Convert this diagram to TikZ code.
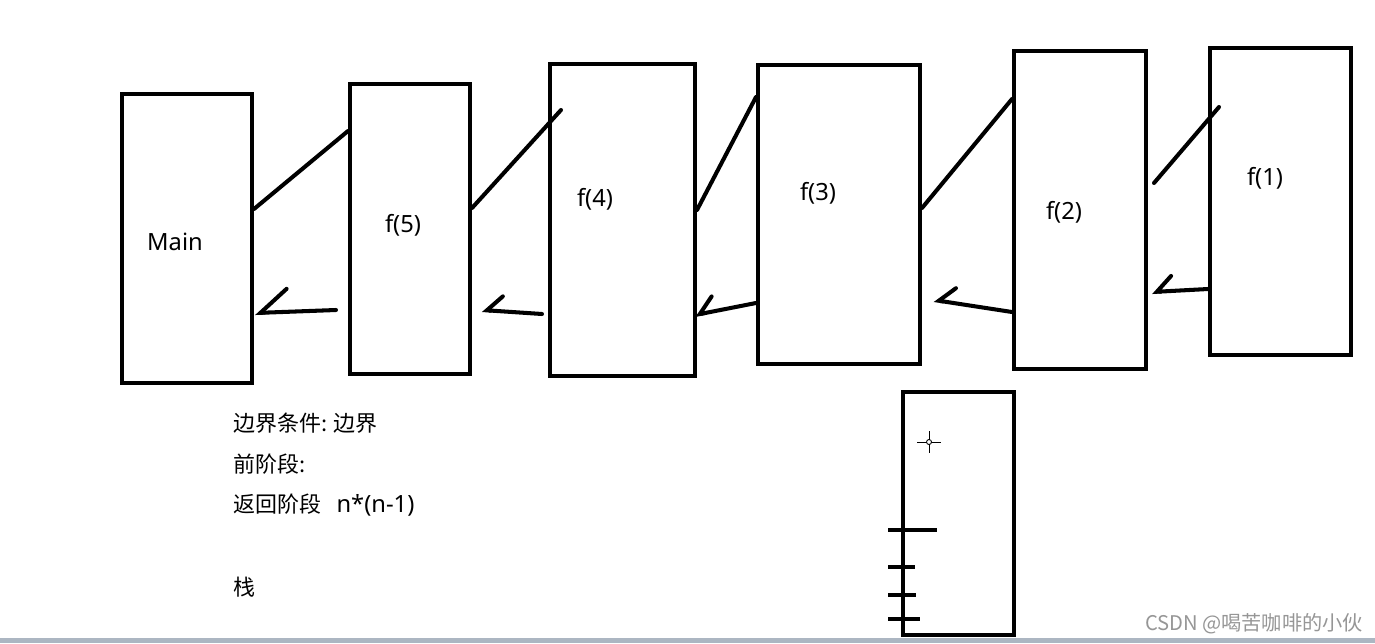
\documentclass[tikz,border=0pt]{standalone}
\usepackage{fontspec}
\setmainfont{Noto Sans}
\newfontfamily\cjk{Noto Sans CJK SC}
\usepackage{tikz}
\usetikzlibrary{positioning,arrows.meta,calc}
\definecolor{wmgray}{RGB}{150,150,150}
\definecolor{barcol}{RGB}{172,182,194}
\tikzset{
  frame/.style={rectangle, draw=black, line width=2.3pt, inner sep=0pt},
  lbl/.style={font=\fontsize{13.5}{16}\selectfont, inner sep=0pt},
  note/.style={font=\fontsize{12.5}{15}\selectfont, anchor=west, inner sep=0pt},
  call/.style={line width=2.3pt, line cap=round},
  ret/.style={line width=2.3pt, line cap=round,
      -{Straight Barb[harpoon, swap, length=0.3cm, width=0.6cm, line cap=round]}},
  tick/.style={line width=2.6pt}
}
\begin{document}
\begin{tikzpicture}[x=0.02cm, y=-0.02cm]
\useasboundingbox (0,0) rectangle (1375,643);
\fill[barcol] (0,638) rectangle (1375,643);

% frames
\node[frame, minimum width=2.6cm, minimum height=5.78cm] (main) at (187,238.5) {};
\node[frame, minimum width=2.4cm, minimum height=5.8cm] (f5) at (410,229) {};
\node[frame, minimum width=2.9cm, minimum height=6.24cm] (f4) at (622.5,220) {};
\node[frame, minimum width=3.24cm, minimum height=5.98cm] (f3) at (839,214.5) {};
\node[frame, minimum width=2.64cm, minimum height=6.36cm] (f2) at (1080,210) {};
\node[frame, minimum width=2.82cm, minimum height=6.14cm] (f1) at (1280.5,201.5) {};
\node[frame, minimum width=2.22cm, minimum height=4.86cm] (stack) at (958.5,513.5) {};

\node[lbl] (lmain) at (175,242) {Main};
\node[lbl] (lf5) at (403,225) {f(5)};
\node[lbl] (lf4) at (595,199) {f(4)};
\node[lbl] (lf3) at (818,193) {f(3)};
\node[lbl] (lf2) at (1064,212) {f(2)};
\node[lbl] (lf1) at (1265,178) {f(1)};

% calls
\draw[call] (main.east |- 0,209) -- (f5.west |- 0,131);
\draw[call] (f5.east |- 0,208) -- ($(f4.west |- 0,110)+(13,0)$);
\draw[call] (f4.east |- 0,210) -- (f3.west |- 0,97);
\draw[call] (f3.east |- 0,208) -- (f2.west |- 0,99);
\draw[call] ($(f2.east |- 0,183)+(6,0)$) -- ($(f1.west |- 0,107)+(11,0)$);

% returns
\draw[ret, -{Straight Barb[harpoon, swap, length=0.54cm, width=0.92cm, line cap=round]}]
  ($(f5.west |- 0,310)+(-12,0)$) -- ($(main.east |- 0,313)+(1,0)$);
\draw[ret] ($(f4.west |- 0,314)+(-6,0)$) -- ($(f5.east |- 0,310)+(10,0)$);
\draw[ret] (f3.west |- 0,303) -- ($(f4.east |- 0,315)+(-2,0)$);
\draw[ret] (f2.west |- 0,312) -- ($(f3.east |- 0,300)+(12,0)$);
\draw[ret] (f1.west |- 0,289) -- ($(f2.east |- 0,292)+(4,0)$);

% stack marks
\foreach \ty/\tl in {530/49, 567/27, 595/28, 619/32}
  \draw[tick] ($(stack.west |- 0,\ty)+(-13,0)$) -- ++(\tl,0);
\draw[line width=0.5pt] (917,442) -- (941,442) (929,431) -- (929,453);
\draw[line width=0.5pt, fill=white] (929,442) circle (0.05cm);

% notes
\node[note] (n1) at (233,423) {\cjk 边界条件: 边界};
\node[note] (n2) at (233,464) {\cjk 前阶段:};
\node[note] (n3) at (233,505) {{\cjk 返回阶段}\hspace{0.7em}{\fontsize{13.5}{15}\selectfont n*(n-1)}};
\node[note] (n4) at (233,587) {\cjk 栈};

\node[font=\fontsize{11.5}{14}\selectfont\cjk, text=wmgray, inner sep=0pt] (wm) at (1254,624) {CSDN @喝苦咖啡的小伙};
\end{tikzpicture}
\end{document}
